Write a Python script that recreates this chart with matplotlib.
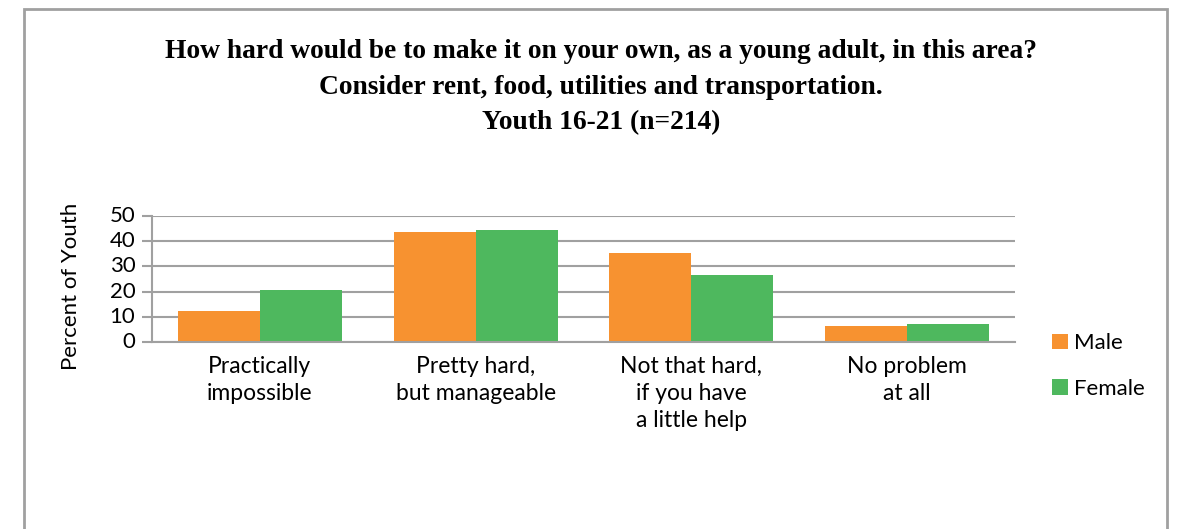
import matplotlib.pyplot as plt
from matplotlib.patches import Rectangle
import numpy as np

categories = ['Practically\nimpossible', 'Pretty hard,\nbut manageable',
              'Not that hard,\nif you have\na little help', 'No problem\nat all']
male = [12.3, 43.8, 35.3, 6.4]
female = [20.7, 44.6, 26.4, 7.1]
yticks = [0, 10, 20, 30, 40, 50]
title_lines = ['How hard would be to make it on your own, as a young adult, in this area?',
               'Consider rent, food, utilities and transportation.',
               'Youth 16-21 (n=214)']

ORANGE = '#F79230'
GREEN = '#4EB85E'
GRID = '#A0A0A0'
SANS = ['Lato', 'DejaVu Sans']
SERIF = ['Liberation Serif', 'DejaVu Serif']


def main():
    fig = plt.figure(figsize=(11.79, 5.29), dpi=100)
    fig.patches.append(Rectangle((24 / 1179, -0.05), (1167 - 24) / 1179, 1.05 - 9 / 529,
                                 transform=fig.transFigure, fill=False,
                                 edgecolor=GRID, linewidth=2))

    # title, one line at a time
    for i, line in enumerate(title_lines):
        fig.text(601 / 1179, 1 - (52 + 35.5 * i) / 529, line, ha='center', va='center',
                 fontsize=19.8, fontweight='bold', family=SERIF)

    ax = fig.add_axes([152 / 1179, 1 - 342 / 529, (1015 - 152) / 1179, 126 / 529])
    x = np.arange(len(categories))
    w = 0.38
    ax.bar(x - w / 2, male, w, color=ORANGE, label='Male', zorder=2)
    ax.bar(x + w / 2, female, w, color=GREEN, label='Female', zorder=2)

    ax.set_xlim(-0.5, len(categories) - 0.5)
    ax.set_ylim(0, 50)
    ax.set_yticks(yticks)
    ax.yaxis.grid(True, color=GRID, linewidth=1.5, zorder=0)
    ax.set_axisbelow(True)
    for s in ['top', 'right']:
        ax.spines[s].set_visible(False)
    ax.spines['left'].set_color(GRID)
    ax.spines['left'].set_linewidth(1.5)
    ax.spines['bottom'].set_color(GRID)
    ax.spines['bottom'].set_linewidth(1.5)
    ax.tick_params(axis='y', length=7, width=1.5, color=GRID, labelsize=16, pad=5)
    ax.tick_params(axis='x', length=0, labelsize=16.5, pad=10)
    ax.set_xticks(x)
    ax.set_xticklabels(categories, family=SANS, linespacing=1.36)
    for t in ax.get_yticklabels():
        t.set_family(SANS)
        t.set_verticalalignment('center')
    ax.set_ylabel('Percent of Youth', fontsize=16, family=SANS)
    ax.yaxis.set_label_coords(-0.082, 0.44)

    ax.legend(loc='center left', bbox_to_anchor=(1.02, -0.19), frameon=False,
              prop={'family': SANS, 'size': 16}, handlelength=0.7, handleheight=0.7,
              handletextpad=0.3, labelspacing=1.15)

    fig.savefig('out.png', dpi=100)


if __name__ == "__main__":
    main()
